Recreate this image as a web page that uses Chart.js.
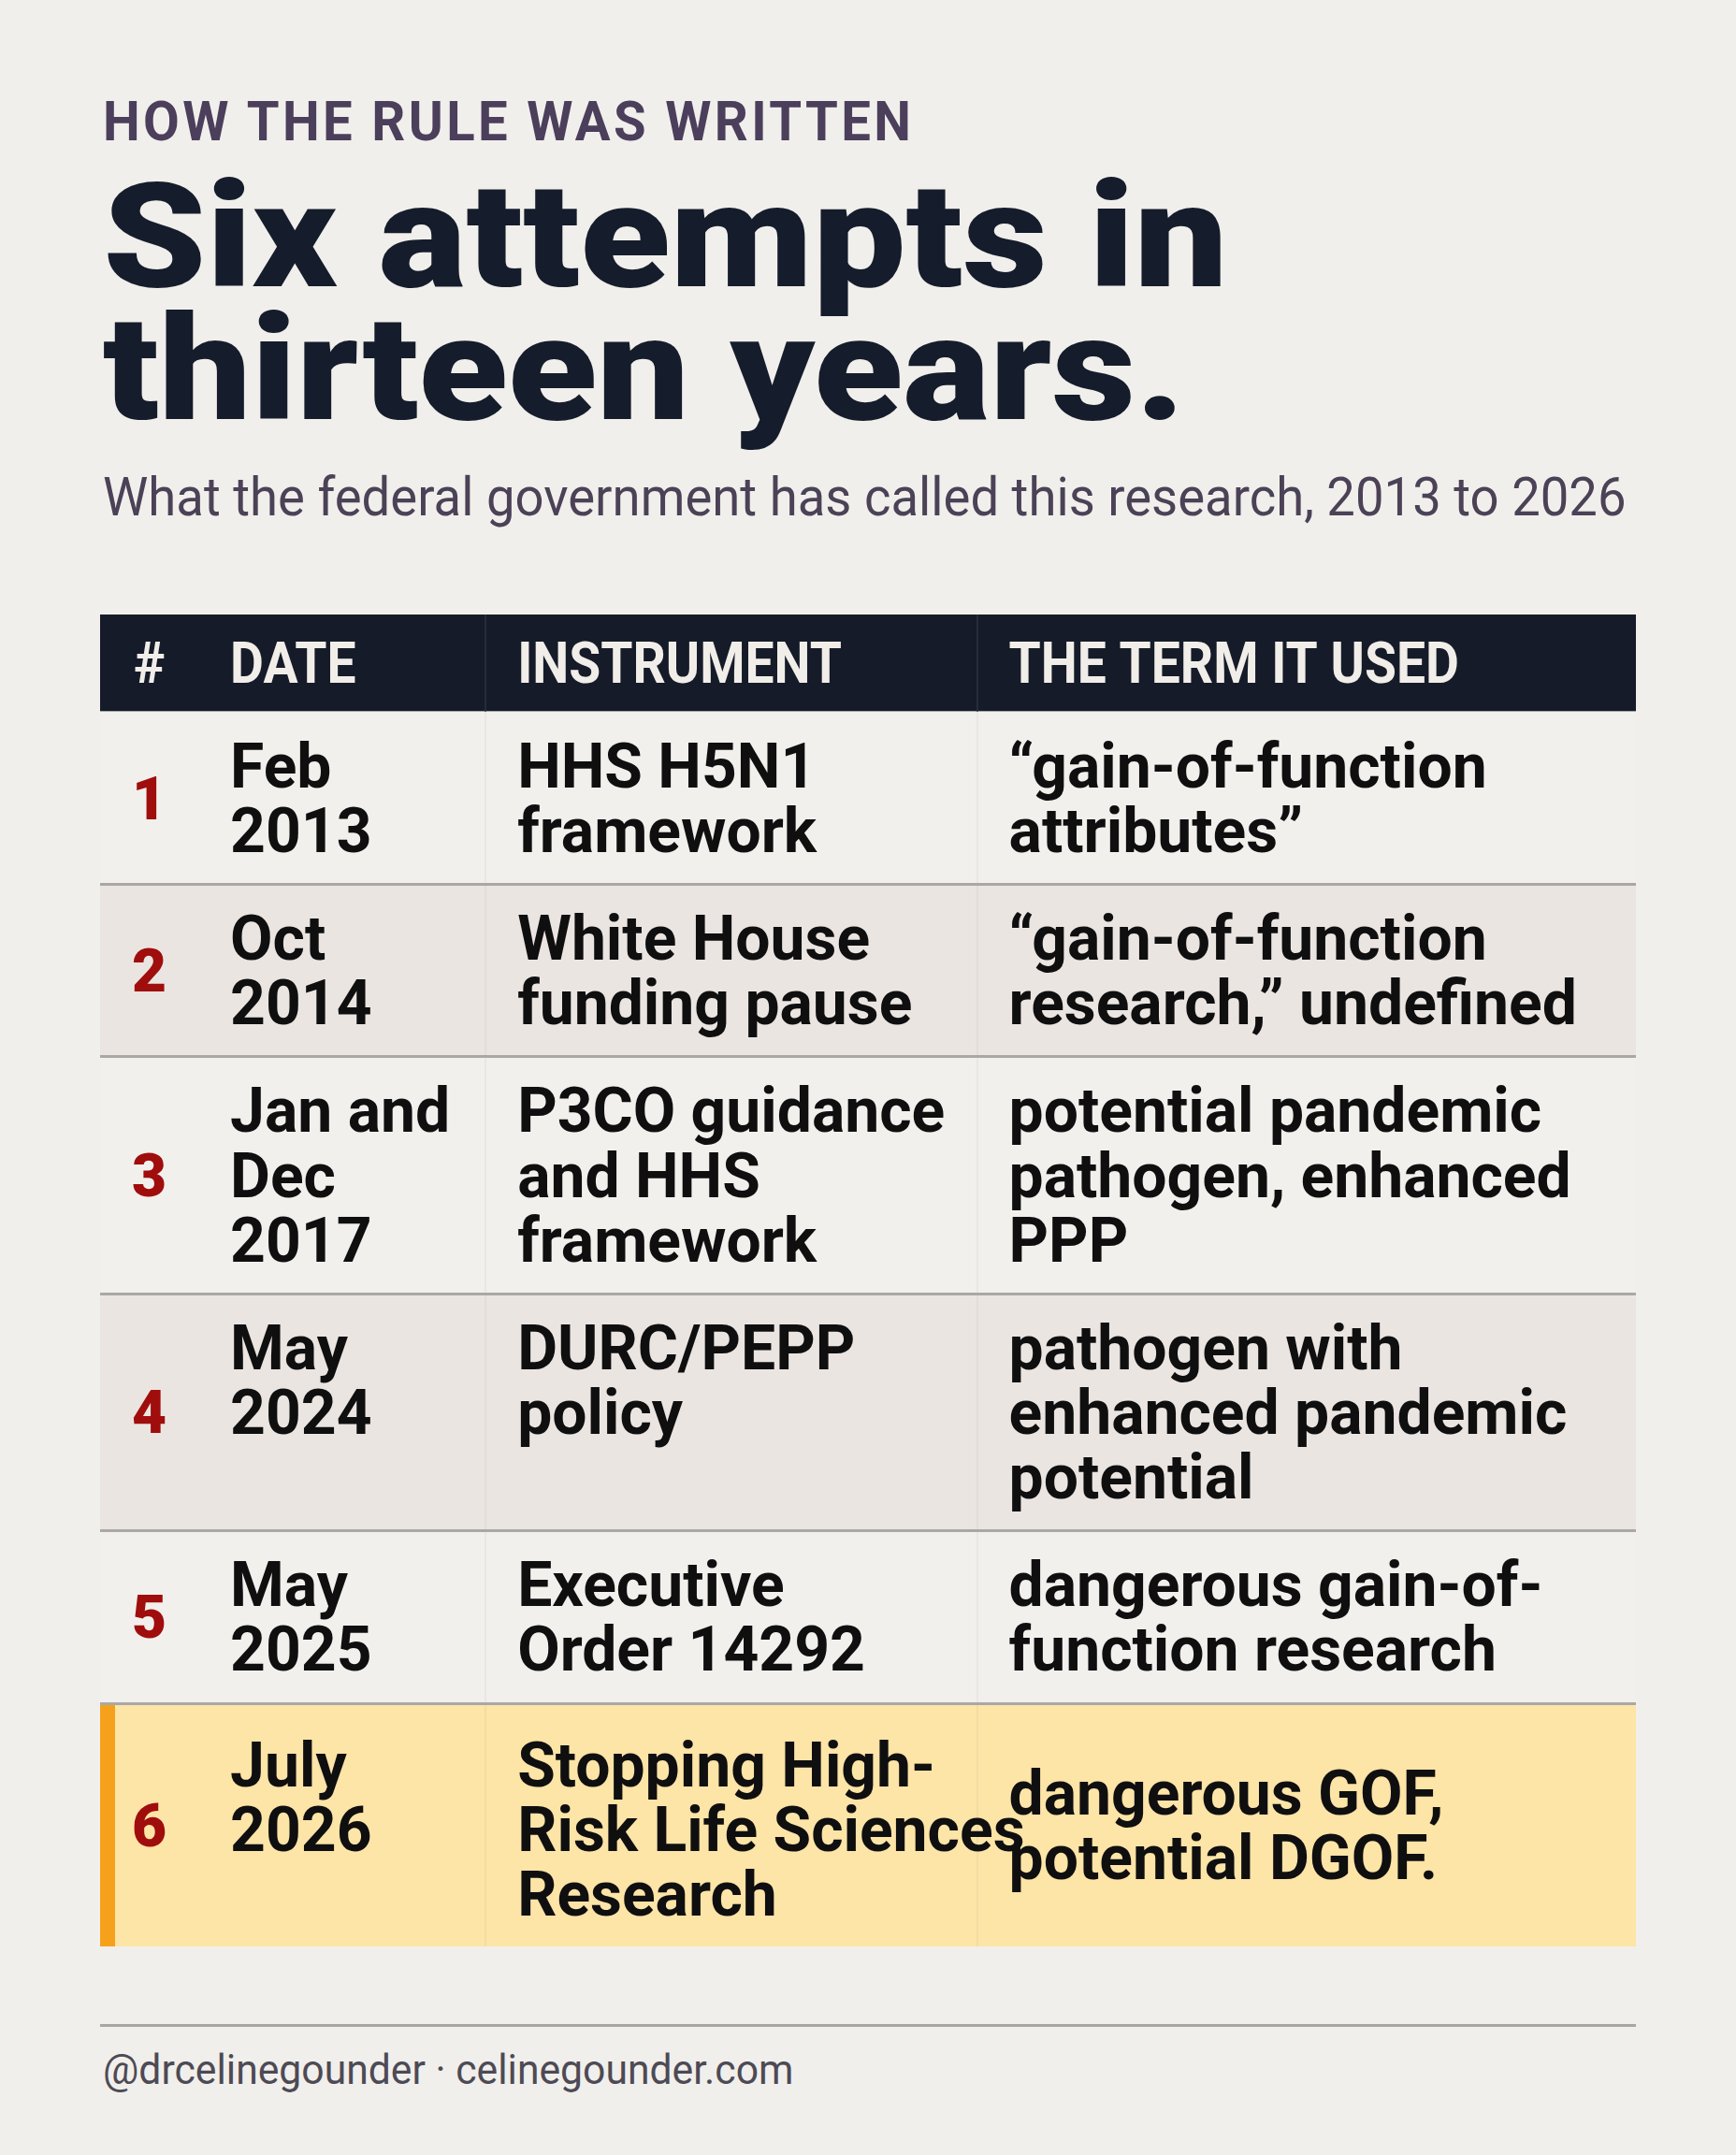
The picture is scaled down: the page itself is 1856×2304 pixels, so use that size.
<!DOCTYPE html>
<html>
<head>
<meta charset="utf-8">
<script src="https://cdn.jsdelivr.net/npm/chart.js@4"></script>
<style>
  html, body { margin: 0; padding: 0; background: #f1efeb; }
  body { width: 1856px; height: 2304px; position: relative; overflow: hidden; font-family: Roboto, "Noto Sans", sans-serif; }
  .t { position: absolute; left: 110px; white-space: nowrap; line-height: 1; transform-origin: 0 0; }
  #kicker { font-weight: 700; font-size: 60px; color: #4b3f5c; letter-spacing: 0.06em; top: 100px; }
  .title { font-weight: 900; font-size: 156px; color: #151c2b; }
  #t1 { top: 175px; }
  #t2 { top: 317px; }
  #sub { font-size: 58px; color: #4b4257; top: 502px; }
  #rule { position: absolute; left: 107px; width: 1642px; top: 2164px; height: 3px; background: #a7a6a4; }
  #foot { font-size: 44px; color: #4d4a55; top: 2191px; }
  #wrap { position: absolute; left: 107px; top: 657px; width: 1642px; height: 1424px; }
</style>
</head>
<body>
<div class="t" id="kicker">HOW THE RULE WAS WRITTEN</div>
<div class="t title" id="t1">Six attempts in</div>
<div class="t title" id="t2">thirteen years.</div>
<div class="t" id="sub">What the federal government has called this research, 2013 to 2026</div>
<div id="wrap"><canvas id="table" width="1642" height="1424"></canvas></div>
<div id="rule"></div>
<div class="t" id="foot">@drcelinegounder · celinegounder.com</div>

<script>
//* Table data
const headers = ['#', 'DATE', 'INSTRUMENT', 'THE TERM IT USED'];
const rowNumbers = ['1', '2', '3', '4', '5', '6'];
const dates = [
  ['Feb', '2013'],
  ['Oct', '2014'],
  ['Jan and', 'Dec', '2017'],
  ['May', '2024'],
  ['May', '2025'],
  ['July', '2026'],
];
const instruments = [
  ['HHS H5N1', 'framework'],
  ['White House', 'funding pause'],
  ['P3CO guidance', 'and HHS', 'framework'],
  ['DURC/PEPP', 'policy'],
  ['Executive', 'Order 14292'],
  ['Stopping High-', 'Risk Life Sciences', 'Research'],
];
const terms = [
  ['“gain-of-function', 'attributes”'],
  ['“gain-of-function', 'research,” undefined'],
  ['potential pandemic', 'pathogen, enhanced', 'PPP'],
  ['pathogen with', 'enhanced pandemic', 'potential'],
  ['dangerous gain-of-', 'function research'],
  ['dangerous GOF,', 'potential DGOF.'],
];
const highlightRow = 5; // index of the latest attempt

//? layout (not data)
const colEdges = [0, 6.4, 25.1, 57.1, 100];   // % of table width
const headUnits = 1.5;                        // header height, in text lines
const rowPad = 0.67;
const hiPad = 0.77;

// Row extents in "line" units
const rowLines = rowNumbers.map((_, i) => Math.max(dates[i].length, instruments[i].length, terms[i].length));
const rowTop = [];
let acc = headUnits;
rowLines.forEach((n, i) => {
  rowTop.push(acc);
  acc += n + (i === highlightRow ? hiPad : rowPad);
});
const totalUnits = acc;

// text squeezed a little horizontally (the original face is narrower)
function squeezed(ctx, txt, px, py, sx) {
  ctx.save();
  ctx.translate(px, py);
  ctx.scale(sx, 1);
  ctx.fillText(txt, 0, 0);
  ctx.restore();
}

const tablePlugin = {
  id: 'table',
  afterDraw(chart) {
    const ctx = chart.ctx;
    const x = chart.scales.x, y = chart.scales.y;
    const X = v => x.getPixelForValue(v);
    const Y = v => y.getPixelForValue(v);
    const padX = 34;
    const rowBottom = i => (i + 1 < rowTop.length ? rowTop[i + 1] : totalUnits);
    ctx.save();

    // header bar
    ctx.fillStyle = '#161b29';
    ctx.fillRect(X(0), Y(0), X(100) - X(0), Y(headUnits) - Y(0));

    // row backgrounds
    rowLines.forEach((n, i) => {
      let bg = i % 2 === 1 ? '#ebe5e2' : '#f2f0ec';
      if (i === highlightRow) bg = '#fde4a7';
      ctx.fillStyle = bg;
      ctx.fillRect(X(0), Y(rowTop[i]), X(100) - X(0), Y(rowBottom(i)) - Y(rowTop[i]));
      if (i === highlightRow) {
        ctx.fillStyle = '#f6a11c';
        ctx.fillRect(X(0), Y(rowTop[i]), 16, Y(rowBottom(i)) - Y(rowTop[i]));
      }
    });

    // column dividers
    [2, 3].forEach(c => {
      const px = Math.round(X(colEdges[c]));
      ctx.fillStyle = '#262c3a';
      ctx.fillRect(px - 1, Y(0), 2, Y(headUnits) - Y(0));
      ctx.fillStyle = 'rgba(0,0,0,0.035)';
      ctx.fillRect(px - 1, Y(headUnits), 2, Y(totalUnits) - Y(headUnits));
    });

    // row separators
    ctx.fillStyle = '#a9a8a6';
    rowTop.forEach((t, i) => {
      if (i === 0) return;
      ctx.fillRect(X(0), Math.round(Y(t)) - 1, X(100) - X(0), 3);
    });

    // header text
    ctx.font = '700 61px Roboto, "Noto Sans", sans-serif';
    ctx.fillStyle = '#f1eee9';
    ctx.textBaseline = 'alphabetic';
    const hBase = Y(headUnits / 2) + 0.355 * 61;
    headers.forEach((h, c) => {
      if (c === 0) {
        ctx.textAlign = 'center';
        squeezed(ctx, h, (X(colEdges[0]) + X(colEdges[1])) / 2, hBase, 0.92);
      } else {
        ctx.textAlign = 'left';
        squeezed(ctx, h, X(colEdges[c]) + padX, hBase, 0.905);
      }
    });

    // row numbers
    ctx.font = '900 64px Roboto, "Noto Sans", sans-serif';
    ctx.fillStyle = '#a00d0d';
    ctx.textAlign = 'center';
    rowNumbers.forEach((num, i) => {
      ctx.fillText(num, (X(colEdges[0]) + X(colEdges[1])) / 2, Y((rowTop[i] + rowBottom(i)) / 2) + 0.355 * 64);
    });

    // cell text
    const fs = 67;
    ctx.font = '700 ' + fs + 'px Roboto, "Noto Sans", sans-serif';
    ctx.fillStyle = '#0f0f10';
    ctx.textAlign = 'left';
    const cols = [dates, instruments, terms];
    rowLines.forEach((n, i) => {
      cols.forEach((col, c) => {
        const lines = col[i];
        let start = rowTop[i] + (i === highlightRow ? 0.45 : 0.33);
        if (i === highlightRow && c === 2) start = (rowTop[i] + rowBottom(i)) / 2 - lines.length / 2;
        lines.forEach((txt, k) => {
          squeezed(ctx, txt, X(colEdges[c + 1]) + padX, Y(start + k + 0.5) + 0.355 * fs, 0.985);
        });
      });
    });
    ctx.restore();
  }
};

new Chart(document.getElementById('table'), {
  type: 'scatter',
  data: { datasets: [] },
  options: {
    responsive: false,
    animation: false,
    layout: { padding: 0 },
    plugins: { legend: { display: false }, tooltip: { enabled: false } },
    scales: {
      x: { type: 'linear', min: 0, max: 100, display: false },
      y: { type: 'linear', min: 0, max: totalUnits, reverse: true, display: false },
    },
  },
  plugins: [tablePlugin],
});

// stretch the html text to the widths in the picture
const fit = (id, target) => {
  const el = document.getElementById(id);
  el.style.transform = 'scaleX(' + (target / el.offsetWidth) + ')';
};
fit('kicker', 867);
fit('t1', 1202);
fit('t2', 1157);
fit('sub', 1629);
fit('foot', 738);
</script>
</body>
</html>
